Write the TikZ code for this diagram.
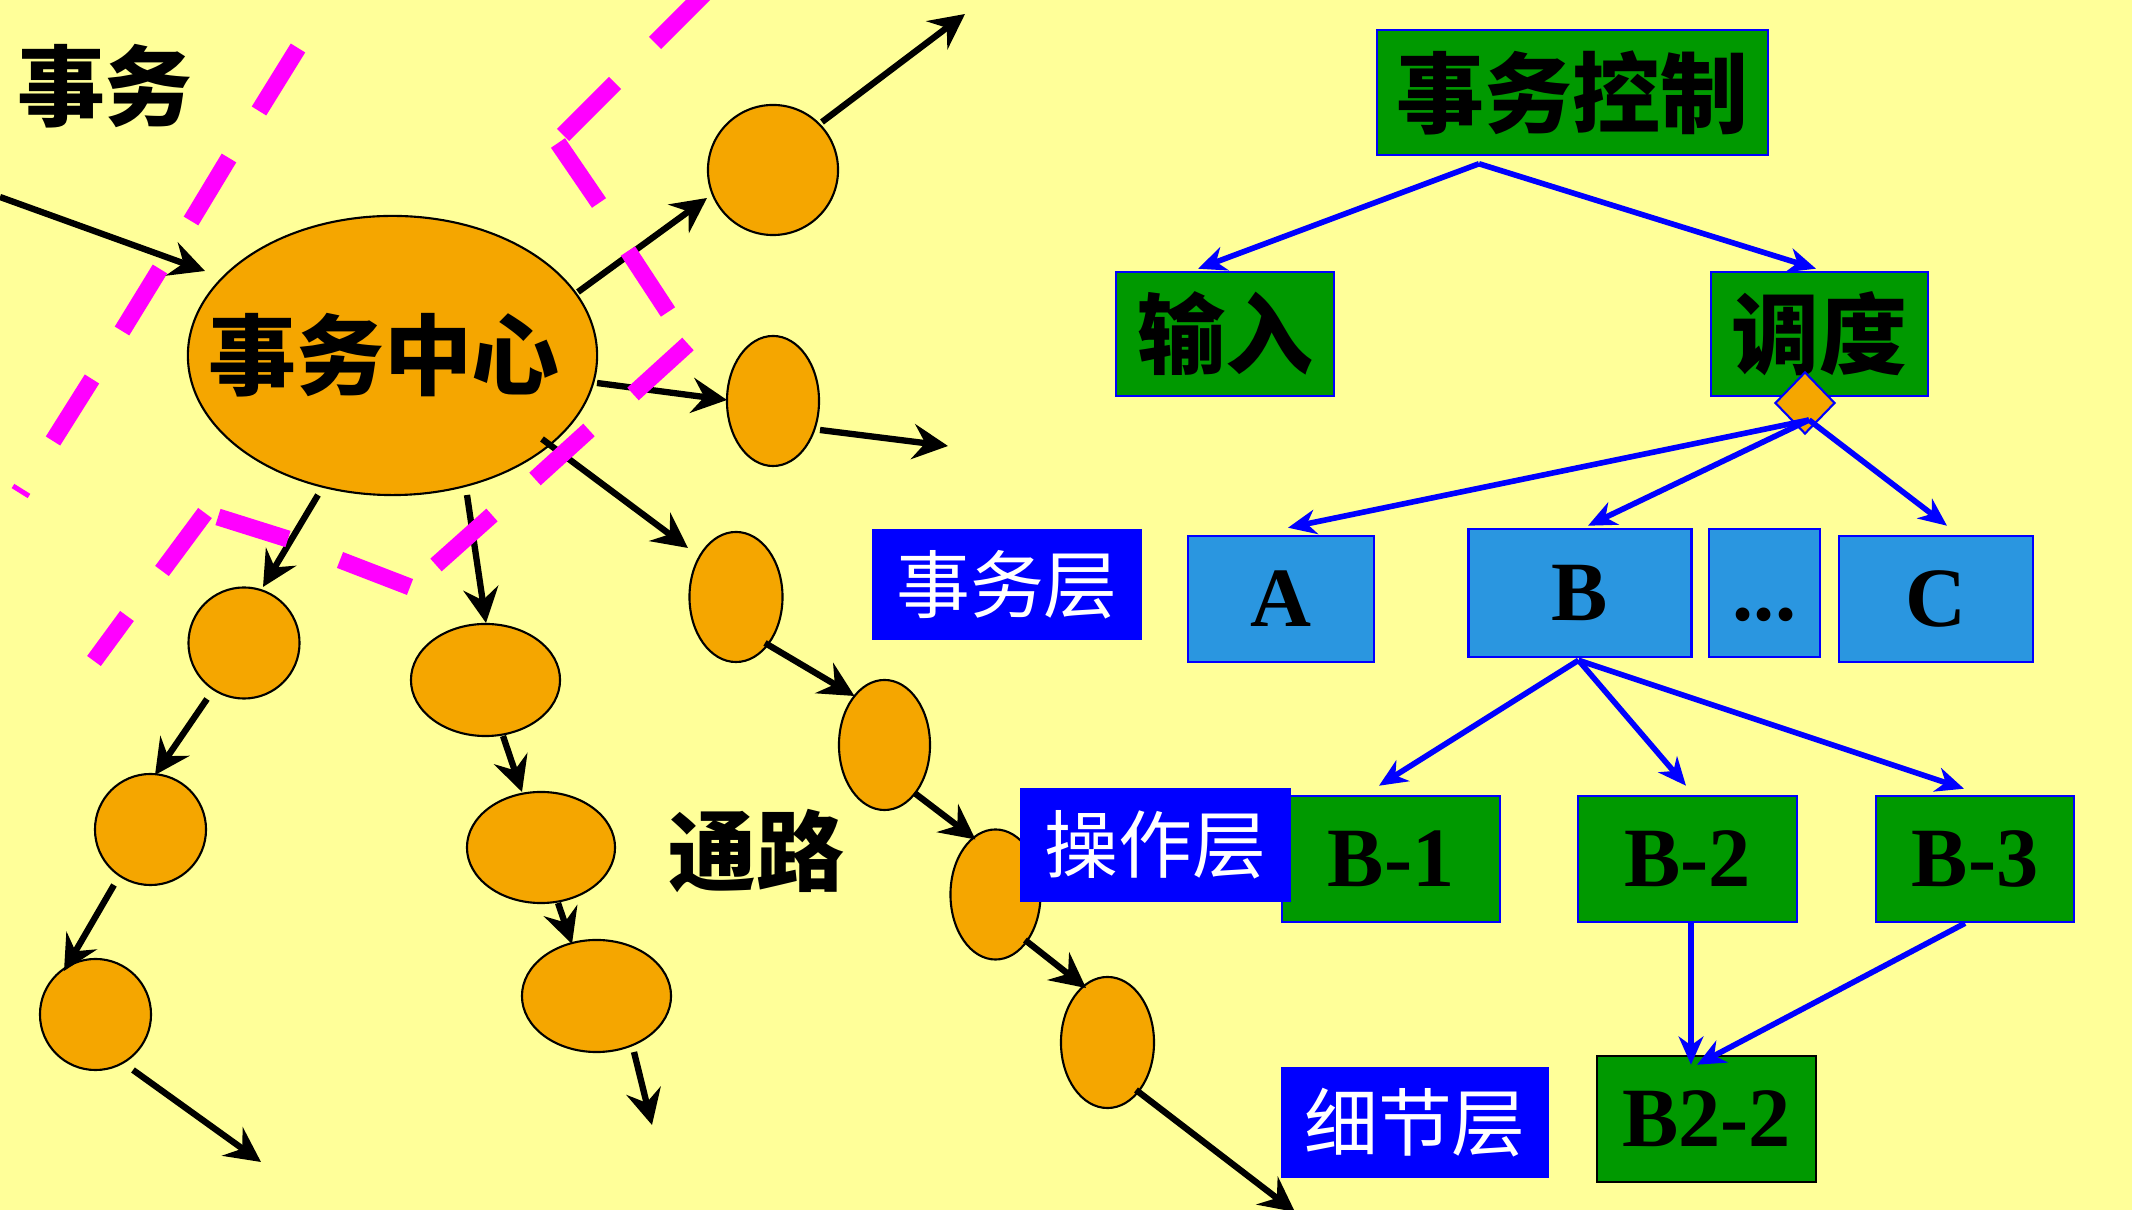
\documentclass[tikz,border=0pt]{standalone}
\usepackage{fontspec}
\setmainfont{Liberation Serif}
\newfontfamily\cjk{Noto Sans CJK SC}
\usetikzlibrary{shapes.geometric,arrows.meta,calc}
\definecolor{bgyellow}{RGB}{255,255,153}
\definecolor{orb}{RGB}{245,166,0}
\definecolor{grn}{RGB}{0,153,0}
\definecolor{lblue}{RGB}{42,150,224}
\definecolor{mag}{RGB}{255,0,255}
\definecolor{pblue}{RGB}{0,0,255}
\begin{document}
\begin{tikzpicture}[x=0.01cm,y=-0.01cm,
  orbnode/.style={ellipse, draw=black, line width=0.6pt, fill=orb, inner sep=0pt},
  blkarrow/.style={draw=black, line width=1.8pt, -{Stealth[length=10pt,width=10pt,inset=3.5pt]}},
  bluarrow/.style={draw=pblue, line width=1.6pt, -{Stealth[length=8pt,width=7pt,inset=2.5pt]}},
  bigcjk/.style={font=\cjk\bfseries\fontsize{25pt}{30pt}\selectfont, text=black},
  latin/.style={font=\bfseries\fontsize{24pt}{28pt}\selectfont, text=black},
  gbox/.style={rectangle, draw=pblue, line width=0.7pt, fill=grn, inner sep=0pt},
  lbox/.style={rectangle, draw=pblue, line width=0.7pt, fill=lblue, inner sep=0pt},
  tagbox/.style={rectangle, fill=pblue, text=white, inner sep=0pt, font=\cjk\fontsize{21pt}{25pt}\selectfont},
  dashseg/.style={draw=mag, line width=0.17cm}
]
\fill[bgyellow] (0,0) rectangle (2132,1210);
\useasboundingbox (0,0) rectangle (2132,1210);
\clip (0,0) rectangle (2132,1210);

% ---------- left: transaction centre ----------
\node[orbnode, minimum width=4.09cm, minimum height=2.79cm] (big) at (392.5,355.5) {};
\node[orbnode, minimum width=1.30cm, minimum height=1.30cm] (c1) at (773,170) {};
\node[orbnode, minimum width=0.92cm, minimum height=1.30cm] (c2) at (773,401) {};
\node[orbnode, minimum width=0.93cm, minimum height=1.30cm] (c3) at (736,597) {};
\node[orbnode, minimum width=0.91cm, minimum height=1.30cm] (c4) at (884.5,745) {};
\node[orbnode, minimum width=0.90cm, minimum height=1.30cm] (c5) at (995.5,894.5) {};
\node[orbnode, minimum width=0.93cm, minimum height=1.31cm] (c6) at (1107.5,1042.5) {};
\node[orbnode, minimum width=1.11cm, minimum height=1.11cm] (d1) at (244,643) {};
\node[orbnode, minimum width=1.11cm, minimum height=1.11cm] (d2) at (150.5,829.5) {};
\node[orbnode, minimum width=1.11cm, minimum height=1.11cm] (d3) at (95.5,1014.5) {};
\node[orbnode, minimum width=1.49cm, minimum height=1.12cm] (e1) at (485.5,680) {};
\node[orbnode, minimum width=1.48cm, minimum height=1.11cm] (e2) at (541,847.5) {};
\node[orbnode, minimum width=1.49cm, minimum height=1.12cm] (e3) at (596.5,996) {};

\node[bigcjk] (tcen) at (384,355) {事务中心};
\node[bigcjk] (tsw) at (105,86) {事务};
\node[bigcjk] (tlu) at (756,851) {通路};

\coordinate (inA) at (0,197);
\coordinate (o1) at (965,14);
\coordinate (o2) at (948,446);
\coordinate (o3) at (1295,1212);
\coordinate (o4) at (261,1162);
\coordinate (o5) at (652,1125);

\draw[blkarrow] ($(big.center)+(185.5,-63.5)$) -- ($(c1.center)+(-66,28)$);
\draw[blkarrow] ($(c1.center)+(49,-48)$) -- (o1);
\draw[blkarrow] ($(big.center)+(204.5,27.5)$) -- ($(c2.center)+(-46,-1)$);
\draw[blkarrow] ($(c2.center)+(47,29)$) -- (o2);
\draw[blkarrow] ($(big.center)+(149.5,83.5)$) -- ($(c3.center)+(-48,-49)$);
\draw[blkarrow] ($(c3.center)+(29,46)$) -- ($(c4.center)+(-30,-49)$);
\draw[blkarrow] ($(c4.center)+(30,48)$) -- ($(c5.center)+(-20,-55)$);
\draw[blkarrow] ($(c5.center)+(29.5,45.5)$) -- ($(c6.center)+(-21.5,-54.5)$);
\draw[blkarrow] ($(c6.center)+(28.5,47.5)$) -- (o3);
\draw[blkarrow] ($(big.center)+(-74.5,139.5)$) -- ($(d1.center)+(19,-56)$);
\draw[blkarrow] ($(d1.center)+(-37,56)$) -- ($(d2.center)+(4.5,-54.5)$);
\draw[blkarrow] ($(d2.center)+(-36.5,55.5)$) -- ($(d3.center)+(-31.5,-43.5)$);
\draw[blkarrow] ($(d3.center)+(37.5,55.5)$) -- (o4);
\draw[blkarrow] ($(big.center)+(74.5,139.5)$) -- ($(e1.center)+(0.5,-57)$);
\draw[blkarrow] ($(e1.center)+(17.5,56)$) -- ($(e2.center)+(-19,-55.5)$);
\draw[blkarrow] ($(e2.center)+(17,55.5)$) -- ($(e3.center)+(-24.5,-52)$);
\draw[blkarrow] ($(e3.center)+(37.5,56)$) -- (o5);

% magenta dashed boundaries
\draw[dashseg] (298,48) -- (259,111);
\draw[dashseg] (229,158) -- (191,221);
\draw[dashseg] (160,269) -- (122,331);
\draw[dashseg] (92,379) -- (53,441);
\draw[draw=mag, line width=0.05cm] (13,486) -- (29,496);
\draw[dashseg] (205,513) -- (162,571);
\draw[dashseg] (127,616) -- (94,661);
\draw[dashseg] (218,517) -- (288,539);
\draw[dashseg] (340,560) -- (410,587);
\draw[dashseg] (492,515) -- (436,565);
\draw[dashseg] (589,430) -- (535,479);
\draw[dashseg] (688,344) -- (633,394);
\draw[dashseg] (628,251) -- (668,312);
\draw[dashseg] (558,143) -- (599,203);
\draw[dashseg] (615,83) -- (563,135);
\draw[dashseg] (707,-9) -- (655,43);

\draw[blkarrow] (inA) -- ($(big.center)+(-187.5,-84.5)$);

% ---------- right: hierarchy ----------
\node[gbox, minimum width=3.91cm, minimum height=1.25cm, bigcjk] (ctrl) at (1572.5,92.5) {事务控制};
\node[gbox, minimum width=2.18cm, minimum height=1.24cm, bigcjk] (inp) at (1225,334) {输入};
\node[gbox, minimum width=2.17cm, minimum height=1.24cm, bigcjk] (sched) at (1819.5,334) {调度};
\node[diamond, draw=pblue, line width=0.6pt, fill=orb, inner sep=0pt, minimum width=0.60cm, minimum height=0.62cm] (dia) at (1805,403) {};

\node[tagbox, minimum width=2.70cm, minimum height=1.11cm] (lay1) at (1007,584.5) {事务层};
\node[lbox, minimum width=1.86cm, minimum height=1.26cm, latin] (nA) at (1281,599) {A};
\node[lbox, minimum width=2.23cm, minimum height=1.28cm, latin] (nB) at (1580,593) {B};
\node[lbox, minimum width=1.11cm, minimum height=1.28cm, latin] (ndots) at (1764.5,593) {\vphantom{B}...};
\node[lbox, minimum width=1.94cm, minimum height=1.26cm, latin] (nC) at (1936,599) {C};

\node[gbox, minimum width=2.18cm, minimum height=1.26cm, latin] (b1) at (1391,859) {B-1};
\node[gbox, minimum width=2.19cm, minimum height=1.26cm, latin] (b2) at (1687.5,859) {B-2};
\node[gbox, minimum width=1.98cm, minimum height=1.26cm, latin] (b3) at (1975,859) {B-3};
\node[tagbox, minimum width=2.71cm, minimum height=1.14cm] (lay2) at (1155.5,845) {操作层};

\node[tagbox, minimum width=2.68cm, minimum height=1.11cm] (lay3) at (1415,1122.5) {细节层};
\node[gbox, draw=black, minimum width=2.19cm, minimum height=1.26cm, latin] (b22) at (1706.5,1119) {B2-2};

\draw[bluarrow] ($(ctrl.south)+(-93.5,7.5)$) -- ($(inp.north)+(-27,-2)$);
\draw[bluarrow] ($(ctrl.south)+(-93.5,7.5)$) -- ($(sched.north)+(-3.5,-2)$);
\draw[bluarrow] ($(dia.center)+(4,17)$) -- ($(nA.north)+(7,-7)$);
\draw[bluarrow] ($(dia.center)+(4,17)$) -- ($(nB.north)+(8,-2)$);
\draw[bluarrow] ($(dia.center)+(4,17)$) -- ($(nC.north)+(11,-9)$);
\draw[bluarrow] ($(nB.south)+(-1.5,2)$) -- ($(b1.north)+(-12,-9)$);
\draw[bluarrow] ($(nB.south)+(-1.5,2)$) -- ($(b2.north)+(-1.5,-9)$);
\draw[bluarrow] ($(nB.south)+(-1.5,2)$) -- ($(b3.north)+(-11,-6)$);
\draw[bluarrow] ($(b2.south)+(3.5,0)$) -- ($(b22.north)+(-15.5,10)$);
\draw[bluarrow] ($(b3.south)+(-10,0)$) -- ($(b22.north)+(-9.5,10)$);
\end{tikzpicture}
\end{document}
